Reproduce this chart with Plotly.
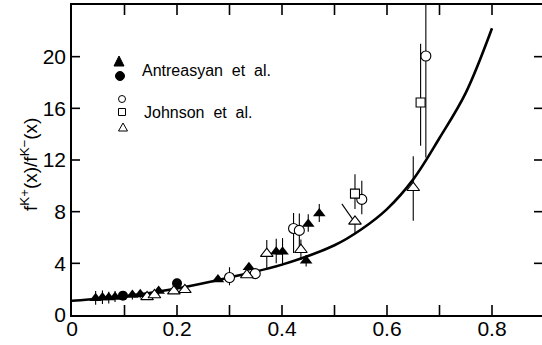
import plotly.graph_objects as go

# Antreasyan et al. (filled triangles)
ant_tri_x = [0.045, 0.058, 0.070, 0.082, 0.115, 0.130, 0.165, 0.278, 0.337, 0.389, 0.401, 0.446, 0.450, 0.471]
ant_tri_y = [1.30, 1.35, 1.35, 1.40, 1.55, 1.60, 1.85, 2.75, 3.70, 4.90, 4.90, 4.20, 7.05, 7.85]
ant_tri_ep = [0.55, 0.55, 0.45, 0.45, 0.35, 0.30, 0.30, 0.20, 0.30, 1.00, 1.05, 0.45, 0.75, 0.75]
ant_tri_em = [0.50, 0.50, 0.45, 0.40, 0.35, 0.30, 0.30, 0.20, 0.30, 0.90, 1.05, 0.45, 0.60, 0.65]

# Antreasyan et al. (filled circles)
ant_cir_x = [0.097, 0.200]
ant_cir_y = [1.50, 2.45]
ant_cir_e = [0.20, 0.35]

# Johnson et al. (open circles)
joh_cir_x = [0.300, 0.349, 0.422, 0.433, 0.552, 0.674]
joh_cir_y = [2.90, 3.20, 6.70, 6.55, 8.95, 20.05]
joh_cir_ep = [0.80, 0.30, 1.20, 1.30, 1.45, 5.00]
joh_cir_em = [0.60, 0.30, 1.90, 1.65, 1.15, 7.85]

# Johnson et al. (open squares)
joh_sq_x = [0.539, 0.664]
joh_sq_y = [9.40, 16.45]
joh_sq_ep = [1.50, 4.55]
joh_sq_em = [1.20, 3.35]

# Johnson et al. (open triangles)
joh_tri_x = [0.143, 0.157, 0.194, 0.215, 0.333, 0.371, 0.436, 0.539, 0.650]
joh_tri_y = [1.40, 1.55, 1.85, 1.95, 3.10, 4.75, 5.05, 7.25, 9.85]
joh_tri_ep = [0.15, 0.15, 0.15, 0.15, 0.20, 1.05, 0.80, 0.00, 2.45]
joh_tri_em = [0.15, 0.15, 0.15, 0.15, 0.20, 1.25, 0.80, 0.90, 2.55]

# slanted error stroke on the x=0.539 triangle
joh_slant_x = [0.514, 0.539]
joh_slant_y = [8.60, 7.15]

# model curve
curve_x = [0.0, 0.1, 0.2, 0.3, 0.4, 0.5, 0.55, 0.6, 0.65, 0.7, 0.75, 0.8]
curve_y = [1.10, 1.45, 2.05, 2.90, 3.90, 5.40, 6.60, 8.20, 10.50, 13.70, 17.20, 22.20]

# axis ticks
x_tickvals = [0.0, 0.1, 0.2, 0.3, 0.4, 0.5, 0.6, 0.7, 0.8]
x_ticktext = ["0", " ", "0.2", " ", "0.4", " ", "0.6", " ", "0.8"]
y_tickvals = [0, 4, 8, 12, 16, 20]
y_ticktext = ["0", "4", "8", "12", "16", "20"]

FONT = "Liberation Sans, Arial, sans-serif"
W, H = 542, 345
L, T, B = 72, 5, 30
PW, PH = W - L, H - T - B
X_PER_PX = 0.2 / 105.0
X_RANGE = [0, PW * X_PER_PX]
Y_RANGE = [0, 24]
X_TICK_LEN = 10 / PH   # paper fraction
Y_TICK_LEN = 8 / PW

fig = go.Figure()

fig.add_trace(go.Scatter(x=curve_x, y=curve_y, mode="lines",
                         line=dict(color="black", width=2.6, shape="spline", smoothing=1.0),
                         hoverinfo="skip"))


def err(plus, minus):
    return dict(type="data", symmetric=False, array=plus, arrayminus=minus,
                color="black", thickness=1.1, width=0)


fig.add_trace(go.Scatter(x=joh_slant_x, y=joh_slant_y, mode="lines",
                         line=dict(color="black", width=1.1)))

fig.add_trace(go.Scatter(x=ant_tri_x, y=ant_tri_y, mode="markers",
                         error_y=err(ant_tri_ep, ant_tri_em),
                         marker=dict(symbol="triangle-up", size=11, color="black")))
fig.add_trace(go.Scatter(x=ant_cir_x, y=ant_cir_y, mode="markers",
                         error_y=err(ant_cir_e, ant_cir_e),
                         marker=dict(symbol="circle", size=10, color="black")))
fig.add_trace(go.Scatter(x=joh_cir_x, y=joh_cir_y, mode="markers",
                         error_y=err(joh_cir_ep, joh_cir_em),
                         marker=dict(symbol="circle", size=10, color="white",
                                     line=dict(color="black", width=1.1))))
fig.add_trace(go.Scatter(x=joh_sq_x, y=joh_sq_y, mode="markers",
                         error_y=err(joh_sq_ep, joh_sq_em),
                         marker=dict(symbol="square", size=9, color="white",
                                     line=dict(color="black", width=1.1))))
fig.add_trace(go.Scatter(x=joh_tri_x, y=joh_tri_y, mode="markers",
                         error_y=err(joh_tri_ep, joh_tri_em),
                         marker=dict(symbol="triangle-up", size=11, color="white",
                                     line=dict(color="black", width=1.1))))


# key symbols, drawn in pixel offsets from the plot corner
def px(xp):
    return (xp - L) / PW


def py(yp):
    return (T + PH - yp) / PH


shapes = []

# inward tick marks on all four sides, placed at the tick values
tick_line = dict(color="black", width=1.6)
for v in x_tickvals[1:]:
    shapes.append(dict(type="line", xref="x", yref="paper", x0=v, x1=v,
                       y0=0, y1=X_TICK_LEN, line=tick_line, layer="above"))
    shapes.append(dict(type="line", xref="x", yref="paper", x0=v, x1=v,
                       y0=1, y1=1 - X_TICK_LEN, line=tick_line, layer="above"))
for v in y_tickvals[1:]:
    shapes.append(dict(type="line", xref="paper", yref="y", x0=0, x1=Y_TICK_LEN,
                       y0=v, y1=v, line=tick_line, layer="above"))
    shapes.append(dict(type="line", xref="paper", yref="y", x0=1, x1=1 - Y_TICK_LEN,
                       y0=v, y1=v, line=tick_line, layer="above"))

# filled triangle
shapes.append(dict(type="path", xref="paper", yref="paper",
                   path=f"M {px(114)} {py(66)} L {px(124)} {py(66)} L {px(119)} {py(56)} Z",
                   fillcolor="black", line=dict(color="black", width=1)))
# filled circle
shapes.append(dict(type="circle", xref="paper", yref="paper",
                   x0=px(115.5), x1=px(124.5), y0=py(80.5), y1=py(71.5),
                   fillcolor="black", line=dict(color="black", width=1)))
# open circle
shapes.append(dict(type="circle", xref="paper", yref="paper",
                   x0=px(118.5), x1=px(125.5), y0=py(102.5), y1=py(95.5),
                   fillcolor="white", line=dict(color="black", width=1)))
# open square
shapes.append(dict(type="rect", xref="paper", yref="paper",
                   x0=px(118.5), x1=px(125.5), y0=py(115.5), y1=py(108.5),
                   fillcolor="white", line=dict(color="black", width=1)))
# open triangle
shapes.append(dict(type="path", xref="paper", yref="paper",
                   path=f"M {px(118.5)} {py(131)} L {px(127.5)} {py(131)} L {px(123)} {py(123)} Z",
                   fillcolor="white", line=dict(color="black", width=1)))

annotations = [
    dict(text="Antreasyan  et  al.", xref="paper", yref="paper",
         x=px(140), y=py(70), xanchor="left", yanchor="middle", showarrow=False,
         font=dict(family=FONT, size=16, color="black")),
    dict(text="Johnson  et  al.", xref="paper", yref="paper",
         x=px(142), y=py(112), xanchor="left", yanchor="middle", showarrow=False,
         font=dict(family=FONT, size=16, color="black")),
    dict(text="f<sup>K+</sup>(x)/f<sup>K−</sup>(x)", xref="paper", yref="paper",
         x=px(29), y=py(165), xanchor="center", yanchor="middle", showarrow=False,
         textangle=-90, font=dict(family=FONT, size=19, color="black")),
]

fig.update_layout(
    width=W, height=H,
    margin=dict(l=L, r=0, t=T, b=B),
    paper_bgcolor="white", plot_bgcolor="white",
    showlegend=False,
    shapes=shapes, annotations=annotations,
    font=dict(family=FONT, color="black"),
    xaxis=dict(range=X_RANGE, tickvals=x_tickvals, ticktext=x_ticktext, ticks="",
               showline=True, linecolor="black", linewidth=1.6, mirror=True,
               showgrid=False, zeroline=False, ticklabelstandoff=-6,
               tickfont=dict(family=FONT, size=21, color="black")),
    yaxis=dict(range=Y_RANGE, tickvals=y_tickvals, ticktext=y_ticktext, ticks="",
               showline=True, linecolor="black", linewidth=1.6,
               showgrid=False, zeroline=False,
               tickfont=dict(family=FONT, size=21, color="black")),
)

fig.write_html("out.html")
